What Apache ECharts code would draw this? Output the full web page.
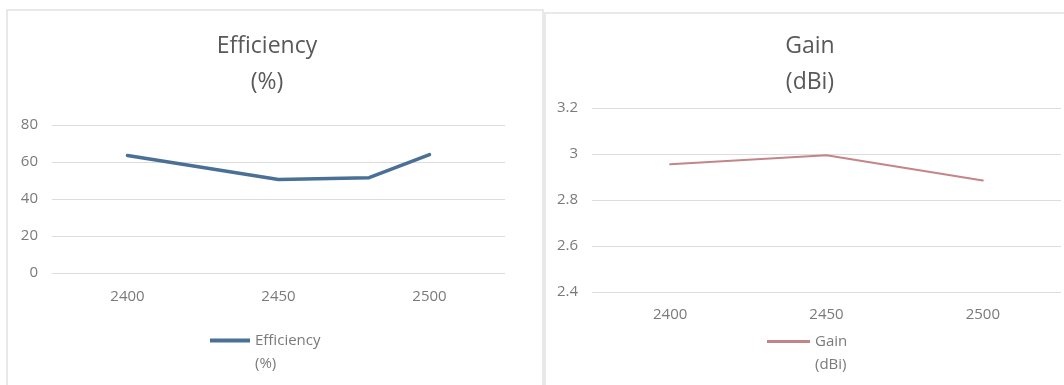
<!DOCTYPE html>
<html>
<head>
<meta charset="utf-8">
<script src="https://cdn.jsdelivr.net/npm/echarts@6/dist/echarts.min.js"></script>
<style>
  html, body { margin: 0; padding: 0; background: #ffffff; }
  #chart { width: 1064px; height: 385px; }
</style>
</head>
<body>
<div id="chart"></div>
<script>
// Frequency sweep (MHz) and measured antenna values
const effFreq = [2400, 2450, 2480, 2500];
const effValues = [63.5, 50.5, 51.5, 64];
const gainFreq = [2400, 2450, 2500];
const gainValues = [2.955, 2.995, 2.885];
const freqTicks = [2400, 2450, 2500];
const effTicks = [0, 20, 40, 60, 80];
const gainTicks = [2.4, 2.6, 2.8, 3.0, 3.2];
const effName = 'Efficiency\n(%)';
const gainName = 'Gain\n(dBi)';

const font = '"Open Sans", "DejaVu Sans", sans-serif';
const titleColor = '#595959';
const labelColor = '#7a7a7a';
const gridColor = '#dcdcdc';
const effColor = '#4a7096';
const gainColor = '#c4858a';

const pairs = (xs, ys) => xs.map((x, i) => [x, ys[i]]);

const xAxisBase = {
  type: 'value',
  min: 2375,
  max: 2525,
  interval: 25,
  axisLine: { show: false },
  axisTick: { show: false },
  splitLine: { show: false },
  axisLabel: {
    color: labelColor,
    fontFamily: font,
    fontSize: 15,
    formatter: v => (freqTicks.includes(v) ? String(v) : '')
  }
};

const yAxisBase = {
  type: 'value',
  axisLine: { show: false },
  axisTick: { show: false },
  splitLine: { show: true, lineStyle: { color: gridColor, width: 1 } },
  axisLabel: { color: labelColor, fontFamily: font, fontSize: 15, margin: 14 }
};

// Two-line legend label: the icon sits level with the first line
const legendFormatter = name =>
  name.split('\n').map((s, i) => '{' + (i === 0 ? 'a' : 'b') + '|' + s + '}').join('\n');

const legendText = {
  color: labelColor,
  fontFamily: font,
  fontSize: 15,
  rich: {
    a: { color: labelColor, fontFamily: font, fontSize: 15, height: 23, lineHeight: 46, verticalAlign: 'bottom' },
    b: { color: labelColor, fontFamily: font, fontSize: 15, lineHeight: 23 }
  }
};

const chart = echarts.init(document.getElementById('chart'), null, { renderer: 'canvas' });

chart.setOption({
  backgroundColor: '#ffffff',
  animation: false,
  title: [
    {
      text: effName, left: 267, top: 28, padding: 0, textAlign: 'center',
      textStyle: { color: titleColor, fontFamily: font, fontSize: 23, fontWeight: 'normal', lineHeight: 36 }
    },
    {
      text: gainName, left: 810, top: 28, padding: 0, textAlign: 'center',
      textStyle: { color: titleColor, fontFamily: font, fontSize: 23, fontWeight: 'normal', lineHeight: 36 }
    }
  ],
  legend: [
    {
      data: [effName], left: 210, top: 329, padding: 0,
      icon: 'rect', itemWidth: 40, itemHeight: 4, itemGap: 5,
      formatter: legendFormatter,
      textStyle: legendText
    },
    {
      data: [gainName], left: 767, top: 330, padding: 0,
      icon: 'rect', itemWidth: 43, itemHeight: 3, itemGap: 5,
      formatter: legendFormatter,
      textStyle: legendText
    }
  ],
  grid: [
    { left: 52, top: 125, width: 453, height: 148 },
    { left: 592, top: 108, width: 477, height: 184 }
  ],
  xAxis: [
    Object.assign({}, xAxisBase, { gridIndex: 0, axisLabel: Object.assign({}, xAxisBase.axisLabel, { margin: 16 }) }),
    Object.assign({}, xAxisBase, { gridIndex: 1, axisLabel: Object.assign({}, xAxisBase.axisLabel, { margin: 15 }) })
  ],
  yAxis: [
    Object.assign({}, yAxisBase, {
      gridIndex: 0, min: effTicks[0], max: effTicks[effTicks.length - 1], interval: effTicks[1] - effTicks[0]
    }),
    Object.assign({}, yAxisBase, {
      gridIndex: 1, min: gainTicks[0], max: gainTicks[gainTicks.length - 1], interval: 0.2,
      axisLabel: Object.assign({}, yAxisBase.axisLabel, { formatter: v => String(Number(v.toFixed(1))) })
    })
  ],
  series: [
    {
      name: effName, type: 'line', xAxisIndex: 0, yAxisIndex: 0,
      data: pairs(effFreq, effValues),
      symbol: 'none', color: effColor,
      lineStyle: { width: 3.5, color: effColor, cap: 'round', join: 'round' }
    },
    {
      name: gainName, type: 'line', xAxisIndex: 1, yAxisIndex: 1,
      data: pairs(gainFreq, gainValues),
      symbol: 'none', color: gainColor,
      lineStyle: { width: 2, color: gainColor, cap: 'round', join: 'round' }
    }
  ],
  graphic: [
    {
      type: 'rect', silent: true, z: -1,
      shape: { x: 7, y: 10, width: 536, height: 400 },
      style: { fill: 'none', stroke: '#e2e2e2', lineWidth: 1.5 }
    },
    {
      type: 'rect', silent: true, z: -1,
      shape: { x: 545, y: 13, width: 540, height: 400 },
      style: { fill: 'none', stroke: '#e2e2e2', lineWidth: 1.5 }
    }
  ]
});
</script>
</body>
</html>
